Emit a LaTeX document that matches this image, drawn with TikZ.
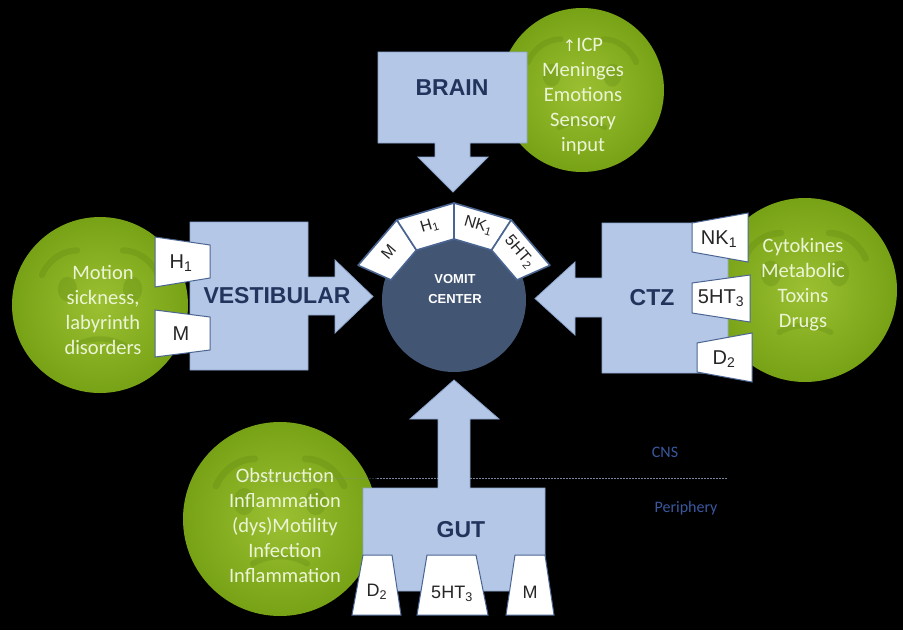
\documentclass[tikz,border=0pt]{standalone}
\usepackage{fontspec}
\setmainfont{Carlito}
\newfontfamily\arl{Liberation Sans}
\newfontfamily\dju{DejaVu Sans}
\usetikzlibrary{calc}
\definecolor{boxblue}{RGB}{180,199,231}
\definecolor{boxedge}{RGB}{140,165,205}
\definecolor{navy}{RGB}{34,52,92}
\definecolor{slate}{RGB}{66,86,116}
\definecolor{recedge}{RGB}{74,101,145}
\definecolor{gin}{RGB}{155,192,50}
\definecolor{gout}{RGB}{120,162,22}
\definecolor{gface}{RGB}{96,136,18}
\definecolor{ctext}{RGB}{236,244,214}
\definecolor{cnsblue}{RGB}{58,88,160}
\definecolor{lineg}{RGB}{120,135,160}
\newcommand{\nauseaface}[2]{%
  \begin{scope}[shift={(#1.center)}, scale=#2/100, opacity=0.3, line cap=round]
    \draw[gface, line width=0.07*#2] (-66,-34) .. controls (-58,-52) and (-42,-62) .. (-26,-62);
    \draw[gface, line width=0.07*#2] (26,-62) .. controls (42,-62) and (58,-52) .. (66,-34);
    \fill[gface] (-37,-18) ellipse [x radius=11, y radius=14];
    \fill[gface] (37,-18) ellipse [x radius=11, y radius=14];
    \draw[gface, line width=0.06*#2] (-28,46) .. controls (-10,36) and (10,36) .. (28,46);
  \end{scope}}
\begin{document}
\begin{tikzpicture}[x=1pt,y=-1pt,
  gcirc/.style={circle, inner sep=0pt, draw=none, inner color=gin, outer color=gout},
  ctxt/.style={font=\fontsize{20.5}{25}\selectfont, text=ctext, align=center},
  blk/.style={fill=boxblue, draw=boxedge, line width=0.8pt, line join=miter},
  boxlab/.style={font=\arl\bfseries\fontsize{23}{27}\selectfont, text=navy},
  rec/.style={fill=white, draw=recedge, line width=1pt},
  rlab/.style={font=\arl\fontsize{20}{24}\selectfont, text=black!85},
  glab/.style={font=\arl\fontsize{18}{22}\selectfont, text=black!85},
  flab/.style={font=\arl\fontsize{16}{18}\selectfont, text=black!85, inner sep=0pt},
  fanrec/.style={fill=white, draw=recedge, line width=1.6pt, line join=round},
  vclab/.style={font=\arl\bfseries\fontsize{13}{20}\selectfont, text=white, align=center},
  cnsl/.style={font=\fontsize{16}{19}\selectfont, text=cnsblue},
  divline/.style={draw=lineg, line width=1pt, dash pattern=on 1.5pt off 1.5pt}]
\useasboundingbox (0,0) rectangle (903,630);
\fill[black] (0,0) rectangle (903,630);

% green circles
\node[gcirc, minimum size=164pt] (cbrain) at (582,90) {};
\node[gcirc, minimum size=176pt] (cvest) at (100,305) {};
\node[gcirc, minimum size=184pt] (cctz) at (805,290) {};
\node[gcirc, minimum size=194pt] (cgut) at (280,519) {};
\nauseaface{cbrain}{82}
\nauseaface{cvest}{88}
\nauseaface{cctz}{92}
\nauseaface{cgut}{97}

\node[ctxt] (tbrain) at (583,96) {{\dju\fontsize{16}{25}\selectfont ↑}ICP\\Meninges\\Emotions\\Sensory\\input};
\node[ctxt] (tvest) at (103,310) {Motion\\sickness,\\labyrinth\\disorders};
\node[ctxt] (tctz) at (803,285) {Cytokines\\Metabolic\\Toxins\\Drugs};
\node[ctxt] (tgut) at (285,525) {Obstruction\\Inflammation\\(dys)Motility\\Infection\\Inflammation};

% CNS / periphery divider
\coordinate (dlA) at (240,478);
\coordinate (dlB) at (377,478);
\coordinate (dlC) at (728,478);
\draw[divline, opacity=0.35] (dlA) -- (dlB);
\draw[divline] (dlB) -- (dlC);
\node[cnsl] (cns) at (665,452) {CNS};
\node[cnsl] (peri) at (686,508) {Periphery};

% block arrows
\draw[blk] (378,52) -- (527,52) -- (527,143) -- (470,143) -- (470,157) -- (488,157) -- (453,192) -- (418,157) -- (435,157) -- (435,143) -- (378,143) -- cycle;
\draw[blk] (190,222) -- (308,222) -- (308,277) -- (335,277) -- (335,260) -- (373,296.5) -- (335,333) -- (335,315) -- (308,315) -- (308,370) -- (190,370) -- cycle;
\draw[blk] (728,223) -- (602,223) -- (602,278) -- (575,278) -- (575,262) -- (535,298.5) -- (575,335) -- (575,317) -- (602,317) -- (602,373) -- (728,373) -- cycle;
\draw[blk] (363,591) -- (363,488) -- (438,488) -- (438,419) -- (410,419) -- (454,380) -- (499,419) -- (470,419) -- (470,488) -- (545,488) -- (545,591) -- cycle;

\node[boxlab] (brain) at (452,88) {BRAIN};
\node[boxlab] (vest) at (277,296) {VESTIBULAR};
\node[boxlab] (ctz) at (652,298) {CTZ};
\node[boxlab] (gut) at (461,530) {GUT};

% receptors: vestibular
\draw[rec] (155,237) -- (210,245) -- (210,278) -- (155,287) -- cycle;
\draw[rec] (155,310) -- (210,317) -- (210,350) -- (155,357) -- cycle;
\node[rlab] (vh1) at (181,263) {H\textsubscript{1}};
\node[rlab] (vm) at (181,334) {M};
% receptors: CTZ
\draw[rec] (692,223) -- (748,213) -- (748,262) -- (692,252) -- cycle;
\draw[rec] (692,283) -- (750,275) -- (750,322) -- (692,313) -- cycle;
\draw[rec] (697,343) -- (752,333) -- (752,382) -- (697,372) -- cycle;
\node[rlab] (cnk) at (719,239) {NK\textsubscript{1}};
\node[rlab] (c5ht) at (721,298) {5HT\textsubscript{3}};
\node[rlab] (cd2) at (724,359) {D\textsubscript{2}};
% receptors: gut
\draw[rec] (363,555) -- (392,555) -- (401,615) -- (352,615) -- cycle;
\draw[rec] (427,555) -- (476,555) -- (488,615) -- (417,615) -- cycle;
\draw[rec] (515,555) -- (545,555) -- (554,615) -- (506,615) -- cycle;
\node[glab] (gd2) at (377,592) {D\textsubscript{2}};
\node[glab] (g5ht) at (452,594) {5HT\textsubscript{3}};
\node[glab] (gm) at (530,592) {M};

% vomit center
\node[circle, fill=slate, minimum size=144pt, inner sep=0pt] (vc) at (454,300) {};
\coordinate (F) at (454,308);
\foreach \th/\lab/\nm in {139.5/M/fm, 106.5/{H\textsubscript{1}}/fh, 73.5/{NK\textsubscript{1}}/fn, 40.5/{5HT\textsubscript{2}}/fs}{
  \draw[fanrec] ($(F)+({-\th+16.5}:105)$) -- ($(F)+({-\th-16.5}:105)$) -- ($(F)+({-\th-16.5}:69)$) -- ($(F)+({-\th+16.5}:69)$) -- cycle;
  \node[flab, rotate=\th-90] (\nm) at ($(F)+({-\th}:86)$) {\lab};
}
\node[vclab] (vct) at (455,289) {VOMIT\\CENTER};
\end{tikzpicture}
\end{document}
